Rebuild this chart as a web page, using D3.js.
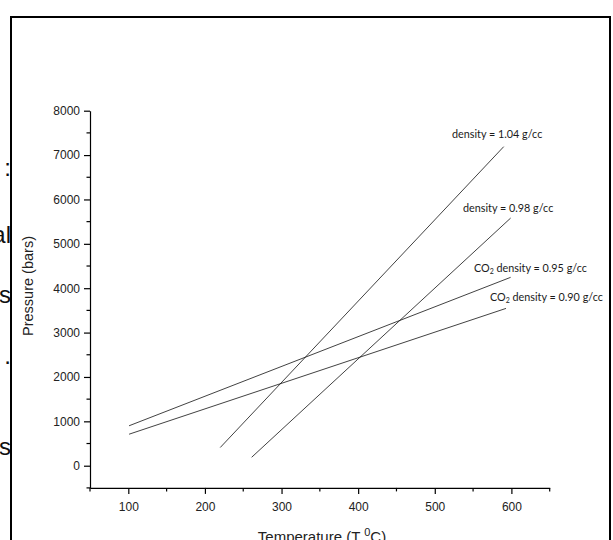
<!DOCTYPE html>
<html>
<head>
<meta charset="utf-8">
<script src="https://cdn.jsdelivr.net/npm/d3@7"></script>
<style>
  body { margin: 0; background: #fff; }
  svg { display: block; }
  .axis text { font-family: "Liberation Sans", Arial, sans-serif; font-size: 12px; fill: #222; }
  .axis path, .axis line { stroke: #000; stroke-width: 1.2; }
  .note { font-family: Lato, "Open Sans", sans-serif; font-size: 10.8px; fill: #1a1a1a; }
</style>
</head>
<body>
<svg width="613" height="540"></svg>
<script>
// isochore lines: temperature (C) vs pressure (bars)
var tempD104 = [220, 590], presD104 = [410, 7190];
var tempD098 = [261, 599], presD098 = [190, 5580];
var tempC095 = [101, 599], presC095 = [900, 4245];
var tempC090 = [101, 593], presC090 = [710, 3545];

var xMajor = [100, 200, 300, 400, 500, 600];
var xMinor = [50, 150, 250, 350, 450, 550, 650];
var yMajor = [0, 1000, 2000, 3000, 4000, 5000, 6000, 7000, 8000];
var yMinor = [-500, 500, 1500, 2500, 3500, 4500, 5500, 6500, 7500];

var labels = ['density = 1.04 g/cc', 'density = 0.98 g/cc', 'density = 0.95 g/cc', 'density = 0.90 g/cc'];

// stray text from the page next to the figure
var sideText = [':', 'al', 's', '.', 's'];

var svg = d3.select('svg');

var xScale = d3.scaleLinear().domain([50, 650]).range([90, 549.7]);
var yScale = d3.scaleLinear().domain([-500, 8000]).range([487.9, 110.7]);

// side fragments, clipped by the frame
var sideY = [176, 243, 303, 364, 455];
svg.selectAll('.side')
    .data(sideText)
    .enter().append('text')
    .attr('class', 'side')
    .attr('x', 11)
    .attr('y', (d, i) => sideY[i])
    .attr('text-anchor', 'end')
    .style('font-family', '"Liberation Sans", Arial, sans-serif')
    .style('font-size', '24px')
    .attr('fill', '#111')
    .text(d => d);

// white panel and frame
svg.append('rect')
    .attr('x', 11).attr('y', 17)
    .attr('width', 599).attr('height', 540)
    .attr('fill', '#fff')
    .attr('stroke', '#000')
    .attr('stroke-width', 2);

// axes
var gx = svg.append('g')
    .attr('class', 'axis')
    .attr('transform', 'translate(0,' + yScale(-500) + ')');
gx.call(d3.axisBottom(xScale).tickValues(xMajor).tickSize(6).tickSizeOuter(0).tickFormat(d3.format('d')));
gx.selectAll('.tick text').attr('dy', '1.2em');
gx.selectAll('.minor')
    .data(xMinor)
    .enter().append('line')
    .attr('class', 'minor')
    .attr('x1', d => xScale(d)).attr('x2', d => xScale(d))
    .attr('y1', 0).attr('y2', 3.5);

var gy = svg.append('g')
    .attr('class', 'axis')
    .attr('transform', 'translate(' + xScale(50) + ',0)');
gy.call(d3.axisLeft(yScale).tickValues(yMajor).tickSize(6).tickSizeOuter(0).tickFormat(d3.format('d')));
gy.selectAll('.tick text').attr('x', -10);
gy.selectAll('.minor')
    .data(yMinor)
    .enter().append('line')
    .attr('class', 'minor')
    .attr('y1', d => yScale(d)).attr('y2', d => yScale(d))
    .attr('x1', 0).attr('x2', -3.5);

// axis titles
svg.append('text')
    .attr('transform', 'translate(33,' + 286 + ') rotate(-90)')
    .attr('text-anchor', 'middle')
    .style('font-family', '"Liberation Sans", Arial, sans-serif')
    .style('font-size', '14.5px')
    .attr('fill', '#222')
    .text('Pressure (bars)');

var xt = svg.append('text')
    .attr('x', 322).attr('y', 542)
    .attr('text-anchor', 'middle')
    .style('font-family', '"Liberation Sans", Arial, sans-serif')
    .style('font-size', '15px')
    .attr('fill', '#222');
xt.append('tspan').text('Temperature (T ');
xt.append('tspan').attr('dy', -6).style('font-size', '11px').text('0');
xt.append('tspan').attr('dy', 6).text('C)');

// lines
var series = [
    {t: tempD104, p: presD104},
    {t: tempD098, p: presD098},
    {t: tempC095, p: presC095},
    {t: tempC090, p: presC090}
];
var line = d3.line().x(d => xScale(d[0])).y(d => yScale(d[1]));

svg.selectAll('.iso')
    .data(series)
    .enter().append('path')
    .attr('class', 'iso')
    .attr('d', d => line(d.t.map((t, i) => [t, d.p[i]])))
    .attr('fill', 'none')
    .attr('stroke', '#111')
    .attr('stroke-width', 0.8);

// annotations
var notePos = [[452, 138], [463, 212], [474, 272], [490, 301]];
labels.forEach(function(lbl, i) {
    var t = svg.append('text')
        .attr('class', 'note')
        .attr('x', notePos[i][0])
        .attr('y', notePos[i][1]);
    if (i >= 2) {
        t.append('tspan').text('CO');
        t.append('tspan').attr('dy', 2).style('font-size', '7px').text('2');
        t.append('tspan').attr('dy', -2).text(' ' + lbl);
    } else {
        t.text(lbl);
    }
});
</script>
</body>
</html>
